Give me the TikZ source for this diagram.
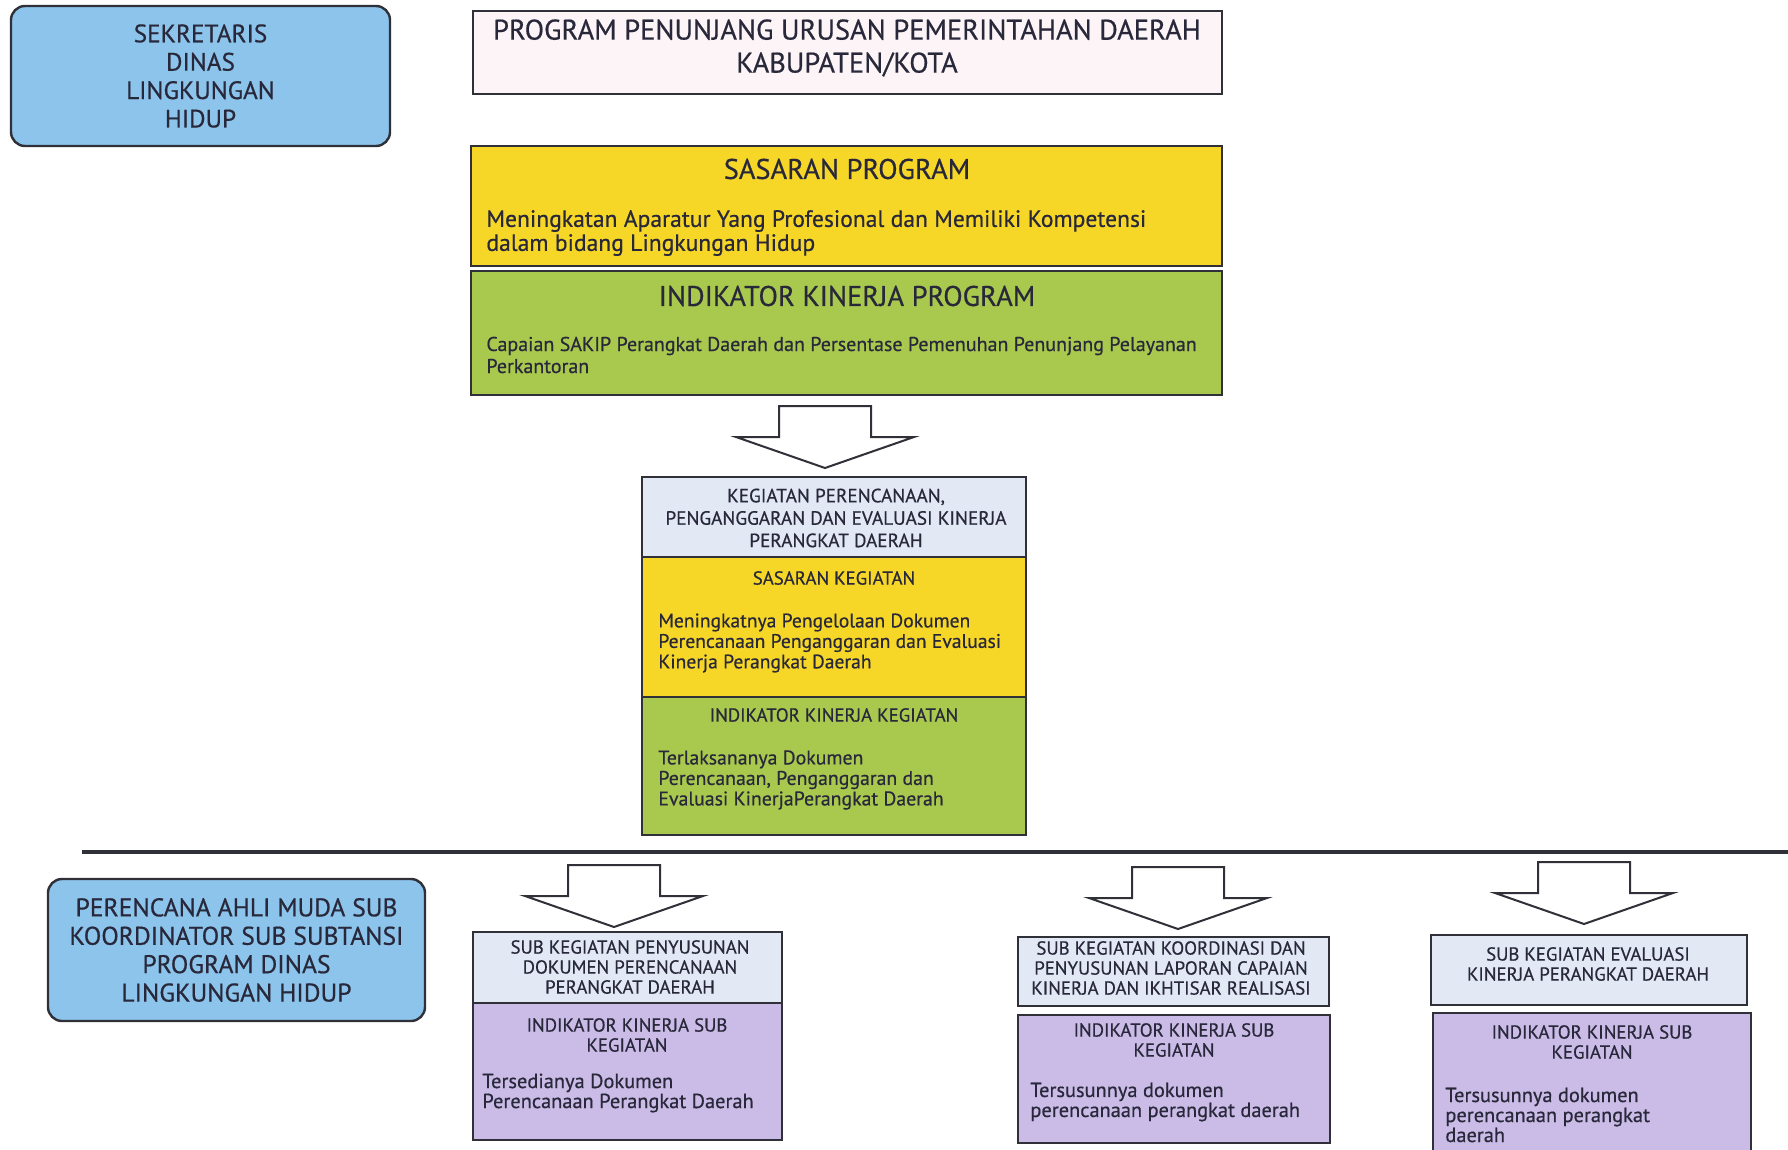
\documentclass[tikz,border=0pt]{standalone}
\usepackage{fontspec}
\setmainfont{PT Sans}[FakeBold=0.5]
\definecolor{skyfill}{RGB}{140,196,236}
\definecolor{pinkfill}{RGB}{252,244,246}
\definecolor{yellowfill}{RGB}{246,214,38}
\definecolor{greenfill}{RGB}{168,200,78}
\definecolor{paleblue}{RGB}{226,233,245}
\definecolor{lilac}{RGB}{202,188,230}
\definecolor{ink}{RGB}{40,40,58}
\definecolor{rim}{RGB}{48,48,56}
\newcommand{\fs}[2]{\fontsize{#1}{#2}\selectfont}
\newcommand{\blockarrow}[1]{\draw[arrowline] (#1) ++(-46,0) -- ++(0,31) -- ++(-43,0) -- ++(89,31) -- ++(89,-31) -- ++(-43,0) -- ++(0,-31) -- cycle;}
\tikzset{
	box/.style={draw=rim, line width=1.2pt, inner sep=0pt},
	role/.style={box, rounded corners=7pt, fill=skyfill, text=ink, align=center, font=\fs{12.6}{14.2}},
	bigtitle/.style={text=ink, inner sep=0pt, font=\fs{14.2}{16.5}, align=center},
	smalltitle/.style={text=ink, inner sep=0pt, font=\fs{9.4}{10}, align=center},
	body/.style={text=ink, inner sep=0pt, anchor=west, align=left},
	arrowline/.style={draw=rim, line width=1pt, fill=white}
}
\begin{document}
\begin{tikzpicture}[x=0.5pt,y=-0.5pt]
	\clip (0,0) rectangle (1788,1150);
	\fill[white] (0,0) rectangle (1788,1150);
	% upper part
	\node[role, minimum width=189.5pt, minimum height=70pt] (sek) at (200.5,76) {SEKRETARIS\\DINAS\\LINGKUNGAN\\HIDUP};
	\node[box, fill=pinkfill, minimum width=374.5pt, minimum height=41.5pt] (prog) at (847.5,52.5) {};
	\node[bigtitle] (progtxt) at (847,48) {PROGRAM PENUNJANG URUSAN PEMERINTAHAN DAERAH\\KABUPATEN/KOTA};
	\node[box, fill=yellowfill, minimum width=375.5pt, minimum height=60pt] (sp) at (846.5,206) {};
	\node[bigtitle] (sptitle) at (847,169) {SASARAN PROGRAM};
	\node[body, font=\fs{11.8}{12}] (sptxt) at (486,233) {Meningkatan Aparatur Yang Profesional dan Memiliki Kompetensi\\dalam bidang Lingkungan Hidup};
	\node[box, fill=greenfill, minimum width=375.5pt, minimum height=62pt] (ikp) at (846.5,333) {};
	\node[bigtitle] (ikptitle) at (847,296) {INDIKATOR KINERJA PROGRAM};
	\node[body, font=\fs{10}{11}] (ikptxt) at (486,355) {Capaian SAKIP Perangkat Daerah dan Persentase Pemenuhan Penunjang Pelayanan\\Perkantoran};
	\coordinate (a1) at (825,406);
	\blockarrow{a1}
	% kegiatan
	\node[box, fill=paleblue, minimum width=192pt, minimum height=40pt] (kb) at (834,517) {};
	\node[smalltitle, font=\fs{9.6}{11.2}] (kbtxt) at (836,518) {KEGIATAN PERENCANAAN,\\PENGANGGARAN DAN EVALUASI KINERJA\\PERANGKAT DAERAH};
	\node[box, fill=yellowfill, minimum width=192pt, minimum height=70pt] (ky) at (834,627) {};
	\node[smalltitle] (kytitle) at (834,578) {SASARAN KEGIATAN};
	\node[body, font=\fs{9.8}{10.25}] (kytxt) at (658,643) {Meningkatnya Pengelolaan Dokumen\\Perencanaan Penganggaran dan Evaluasi\\Kinerja Perangkat Daerah};
	\node[box, fill=greenfill, minimum width=192pt, minimum height=69pt] (kg) at (834,766) {};
	\node[smalltitle] (kgtitle) at (834,715) {INDIKATOR KINERJA KEGIATAN};
	\node[body, font=\fs{9.9}{10.25}] (kgtxt) at (658,780) {Terlaksananya Dokumen\\Perencanaan, Penganggaran dan\\Evaluasi KinerjaPerangkat Daerah};
	\draw[rim, line width=1.6pt] (82,852) -- (1788,852);
	% lower part
	\node[role, font=\fs{12.8}{14.2}, minimum width=188.5pt, minimum height=71pt] (per) at (236.5,950) {PERENCANA AHLI MUDA SUB\\KOORDINATOR SUB SUBTANSI\\PROGRAM DINAS\\LINGKUNGAN HIDUP};
	\coordinate (a2) at (614,865);
	\coordinate (a3) at (1178,867);
	\coordinate (a4) at (1584,862);
	\blockarrow{a2}
	\blockarrow{a3}
	\blockarrow{a4}
	\node[box, fill=paleblue, minimum width=154.5pt, minimum height=35.5pt] (s1b) at (627.5,967.5) {};
	\node[smalltitle] (s1btxt) at (630,967) {SUB KEGIATAN PENYUSUNAN\\DOKUMEN PERENCANAAN\\PERANGKAT DAERAH};
	\node[box, fill=lilac, minimum width=154.5pt, minimum height=68.5pt] (s1p) at (627.5,1071.5) {};
	\node[smalltitle] (s1ptitle) at (627,1035) {INDIKATOR KINERJA SUB\\KEGIATAN};
	\node[body, font=\fs{10.2}{10}] (s1ptxt) at (482,1093) {Tersedianya Dokumen\\Perencanaan Perangkat Daerah};
	\node[box, fill=paleblue, minimum width=155.5pt, minimum height=34.5pt] (s2b) at (1173.5,971.5) {};
	\node[smalltitle] (s2btxt) at (1171,968) {SUB KEGIATAN KOORDINASI DAN\\PENYUSUNAN LAPORAN CAPAIAN\\KINERJA DAN IKHTISAR REALISASI};
	\node[box, fill=lilac, minimum width=156pt, minimum height=64pt] (s2p) at (1174,1079) {};
	\node[smalltitle] (s2ptitle) at (1174,1040) {INDIKATOR KINERJA SUB\\KEGIATAN};
	\node[body, font=\fs{10.2}{10}] (s2ptxt) at (1030,1102) {Tersusunnya dokumen\\perencanaan perangkat daerah};
	\node[box, fill=paleblue, minimum width=158pt, minimum height=35pt] (s3b) at (1589,970) {};
	\node[smalltitle] (s3btxt) at (1588,964) {SUB KEGIATAN EVALUASI\\KINERJA PERANGKAT DAERAH};
	\node[box, fill=lilac, minimum width=159pt, minimum height=76pt] (s3p) at (1592,1089) {};
	\node[smalltitle] (s3ptitle) at (1592,1042) {INDIKATOR KINERJA SUB\\KEGIATAN};
	\node[body, font=\fs{10.2}{10}] (s3ptxt) at (1445,1115) {Tersusunnya dokumen\\perencanaan perangkat\\daerah};
\end{tikzpicture}
\end{document}
